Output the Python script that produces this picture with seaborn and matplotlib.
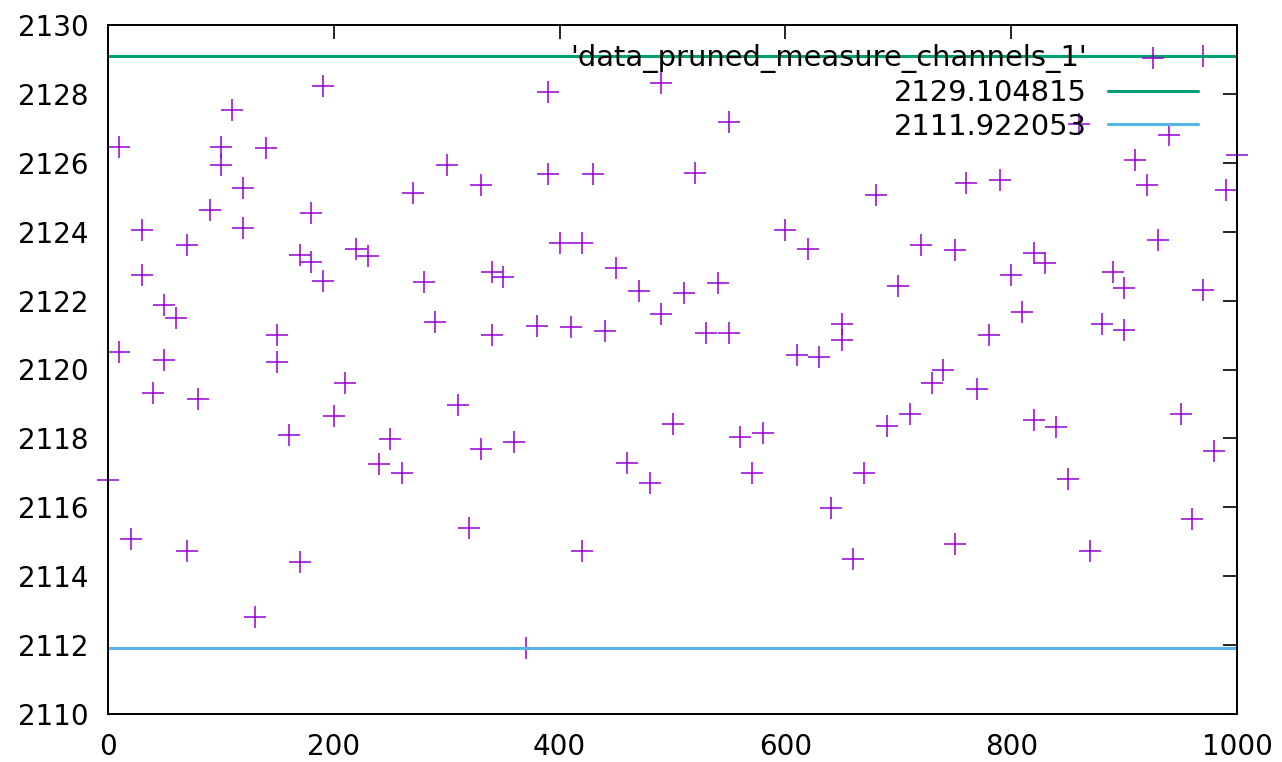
import matplotlib.pyplot as plt
import seaborn as sns
import pandas as pd

# pruned measurements, x index / value
x = [0, 10, 10, 20, 30, 30, 40, 50, 50, 60, 70, 70, 80, 90, 100, 100, 110, 120, 120, 130,
     140, 150, 150, 160, 170, 170, 180, 180, 190, 190, 200, 210, 220, 230, 240, 250, 260,
     270, 280, 290, 300, 310, 320, 330, 330, 340, 340, 350, 360, 370, 380, 390, 390, 400,
     410, 420, 420, 430, 440, 450, 460, 470, 480, 490, 490, 500, 510, 520, 530, 540, 550,
     550, 560, 570, 580, 600, 610, 620, 630, 640, 650, 650, 660, 670, 680, 690, 700, 710,
     720, 730, 740, 750, 750, 760, 770, 780, 790, 800, 810, 820, 820, 830, 840, 850, 860,
     870, 880, 890, 900, 900, 910, 920, 930, 940, 950, 960, 970, 970, 980, 990, 1000]
y = [2116.8, 2126.46, 2120.52, 2115.07, 2124.06, 2122.75, 2119.33, 2121.88, 2120.29, 2121.5,
     2123.62, 2114.72, 2119.13, 2124.64, 2126.46, 2125.94, 2127.54, 2125.28, 2124.12, 2112.81,
     2126.43, 2120.99, 2120.23, 2118.09, 2114.4, 2123.33, 2123.13, 2124.55, 2128.23, 2122.58,
     2118.64, 2119.62, 2123.51, 2123.3, 2117.25, 2117.97, 2116.99, 2125.13, 2122.55, 2121.39,
     2125.94, 2118.96, 2115.39, 2125.36, 2117.68, 2122.84, 2121.01, 2122.69, 2117.91, 2111.922053,
     2121.25, 2128.06, 2125.68, 2123.68, 2121.22, 2123.68, 2114.72, 2125.68, 2121.13, 2122.96,
     2117.3, 2122.29, 2116.7, 2128.32, 2121.62, 2118.43, 2122.23, 2125.71, 2121.07, 2122.52,
     2127.19, 2121.07, 2118.03, 2116.99, 2118.17, 2124.06, 2120.41, 2123.51, 2120.35, 2115.97,
     2121.33, 2120.87, 2114.49, 2116.99, 2125.07, 2118.35, 2122.41, 2118.7, 2123.62, 2119.62,
     2120.0, 2123.48, 2114.93, 2125.42, 2119.42, 2121.01, 2125.51, 2122.75, 2121.68, 2123.39,
     2118.52, 2123.1, 2118.32, 2116.81, 2127.13, 2114.72, 2121.33, 2122.84, 2122.38, 2121.16,
     2126.09, 2125.36, 2123.77, 2126.81, 2118.72, 2115.65, 2122.32, 2129.104815, 2117.62, 2125.22,
     2126.23]

x_ticks = [0, 200, 400, 600, 800, 1000]
y_ticks = [2110, 2112, 2114, 2116, 2118, 2120, 2122, 2124, 2126, 2128, 2130]

df = pd.DataFrame({'x': x, 'y': y})
y_max = df['y'].max()
y_min = df['y'].min()

sns.set_theme(style='white')
plt.rcParams['font.family'] = ['DejaVu Sans']
plt.rcParams['text.color'] = 'black'
plt.rcParams['xtick.color'] = 'black'
plt.rcParams['ytick.color'] = 'black'

fig = plt.figure(figsize=(12.82, 7.62), dpi=100)
ax = fig.add_axes([108 / 1282, 1 - 714 / 762, 1129 / 1282, 689 / 762])

sns.scatterplot(data=df, x='x', y='y', marker='+', s=250, color='#9400d3',
                linewidth=1.1, ax=ax, label="'data_pruned_measure_channels_1'")
ax.collections[0].set_clip_on(False)
ax.axhline(y_max, color='#009e73', lw=2.2, label=f'{y_max:.6f}')
ax.axhline(y_min, color='#56b4e9', lw=2.2, label=f'{y_min:.6f}')

ax.set_xlim(0, 1000)
ax.set_ylim(2110, 2130)
ax.set_xticks(x_ticks)
ax.set_yticks(y_ticks)
ax.set_xlabel('')
ax.set_ylabel('')
ax.tick_params(direction='in', length=10, width=1.2, color='black',
               top=True, right=True, labelsize=20, labelcolor='black')
ax.tick_params(axis='y', pad=14)
ax.tick_params(axis='x', pad=14)
for sp in ax.spines.values():
    sp.set_color('black')
    sp.set_linewidth(1.4)

leg = ax.legend(loc='upper right', bbox_to_anchor=(1 - 39 / 1129, 1 - 19 / 689),
                markerfirst=False, frameon=False, fontsize=20.8, handlelength=3.1,
                handletextpad=0.75, labelspacing=0.2, borderpad=0, borderaxespad=0)
for t in leg.get_texts():
    t.set_color('black')

plt.savefig('out.png', dpi=100)
